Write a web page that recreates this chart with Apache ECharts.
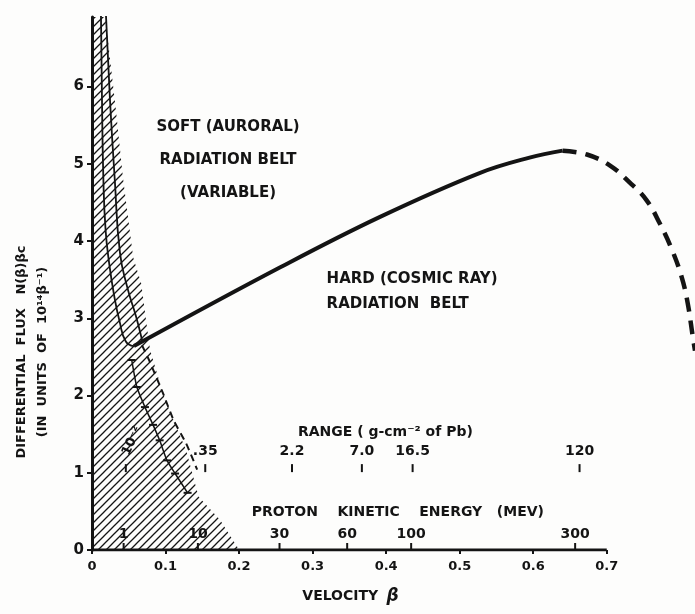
<!DOCTYPE html>
<html>
<head>
<meta charset="utf-8">
<script src="https://cdn.jsdelivr.net/npm/echarts@6/dist/echarts.min.js"></script>
<style>
html, body { margin: 0; padding: 0; background: #fdfdfc; }
#chart { width: 695px; height: 614px; }
</style>
</head>
<body>
<div id="chart"></div>
<script>
// hard (cosmic ray) belt - measured part
var hardBeta = [0.057, 0.256, 0.391, 0.527, 0.595, 0.640];
var hardFlux = [2.64, 3.66, 4.31, 4.88, 5.08, 5.17];
// hard belt - dashed part
var hardDashBeta = [0.640, 0.673, 0.704, 0.731, 0.754, 0.772, 0.789, 0.802, 0.810, 0.817, 0.820];
var hardDashFlux = [5.17, 5.12, 4.98, 4.76, 4.53, 4.23, 3.88, 3.53, 3.20, 2.76, 2.58];
// soft belt, hatched envelope
var softEdgeBeta = [0, 0.018, 0.0326, 0.042, 0.056, 0.067, 0.073, 0.079, 0.0965, 0.111, 0.128, 0.145, 0.174, 0.197, 0.200];
var softEdgeFlux = [6.9, 6.9, 5.69, 4.83, 3.79, 3.45, 3.01, 2.59, 2.03, 1.68, 1.29, 0.69, 0.39, 0.05, 0];
// soft belt curves
var softInnerBeta = [0.0122, 0.0136, 0.0155, 0.0185, 0.0235, 0.030, 0.0375, 0.046, 0.057];
var softInnerFlux = [6.92, 5.82, 4.79, 4.14, 3.70, 3.30, 2.96, 2.70, 2.64];
var softOuterBeta = [0.019, 0.0245, 0.031, 0.038, 0.048, 0.060, 0.068];
var softOuterFlux = [6.92, 5.82, 4.79, 3.85, 3.40, 3.02, 2.72];
var softDashBeta = [0.068, 0.0775, 0.0965, 0.111, 0.128, 0.143];
var softDashFlux = [2.65, 2.46, 2.03, 1.68, 1.38, 1.04];
var ladderBeta = [0.054, 0.061, 0.072, 0.083, 0.092, 0.102, 0.113, 0.130];
var ladderFlux = [2.46, 2.11, 1.85, 1.62, 1.42, 1.16, 0.99, 0.74];
// velocity axis ticks (axis line stops at 0.7)
var velocityTicks = [0, 0.1, 0.2, 0.3, 0.4, 0.5, 0.6, 0.7];
// secondary scales
var energyLabels = ['1', '10', '30', '60', '100', '300'];
var energyBeta = [0.043, 0.144, 0.255, 0.347, 0.434, 0.657];
var rangeLabels = ['10\u207b\u00b2', '.35', '2.2', '7.0', '16.5', '120'];
var rangeBeta = [0.046, 0.154, 0.272, 0.367, 0.436, 0.663];

var ink = '#141414';
var font = "'DejaVu Sans', 'Liberation Sans', sans-serif";

function pairs(xs, ys) {
    return xs.map(function (x, i) { return [x, ys[i]]; });
}

// diagonal hatch pattern
var hatch = document.createElement('canvas');
hatch.width = 8;
hatch.height = 8;
var g = hatch.getContext('2d');
g.strokeStyle = ink;
g.lineWidth = 1.3;
g.beginPath();
g.moveTo(0, 8); g.lineTo(8, 0);
g.moveTo(-2, 2); g.lineTo(2, -2);
g.moveTo(6, 10); g.lineTo(10, 6);
g.stroke();

var chart = echarts.init(document.getElementById('chart'));
var option = {
    animation: false,
    backgroundColor: '#fdfdfc',
    textStyle: { fontFamily: font, color: ink, fontWeight: 'bold' },
    grid: { left: 92, right: 0, top: 17, bottom: 64 },
    xAxis: {
        type: 'value', min: 0, max: 0.82,
        name: '{a|VELOCITY}  {b|\u03b2}',
        nameLocation: 'middle', nameGap: 38,
        nameTextStyle: {
            padding: [0, 86, 0, 0],
            rich: {
                a: { fontSize: 14, fontWeight: 'bold', color: ink, fontFamily: font },
                b: { fontSize: 17, fontWeight: 'bold', fontStyle: 'italic', color: ink, fontFamily: font }
            }
        },
        axisLine: { show: false },
        axisTick: { show: true, customValues: velocityTicks, length: 4, lineStyle: { color: ink, width: 2 } },
        axisLabel: {
            customValues: velocityTicks,
            color: ink, fontSize: 13, fontWeight: 'bold', margin: 10,
            formatter: function (v) { return v === 0 ? '0' : v.toFixed(1); }
        },
        splitLine: { show: false }
    },
    yAxis: {
        type: 'value', min: 0, max: 6.9, interval: 1,
        axisLine: { show: true, lineStyle: { color: ink, width: 3 } },
        axisTick: { show: true, length: 5, lineStyle: { color: ink, width: 2 } },
        axisLabel: {
            color: ink, fontSize: 15, fontWeight: 'bold', margin: 8, showMaxLabel: false,
            formatter: function (v) { return v % 1 === 0 ? String(v) : ''; }
        },
        splitLine: { show: false }
    },
    graphic: [{
        type: 'text', x: 32, y: 352, rotation: Math.PI / 2,
        style: {
            text: 'DIFFERENTIAL  FLUX   N(\u03b2)\u03b2c\n(IN  UNITS  OF  10\u00b9\u2074\u03b2\u207b\u00b9)',
            fill: ink, font: 'bold 13px ' + font,
            align: 'center', verticalAlign: 'middle', lineHeight: 21
        }
    }],
    series: [
        {
            type: 'line', data: pairs(softEdgeBeta, softEdgeFlux), symbol: 'none', silent: true,
            lineStyle: { width: 0, opacity: 0 },
            areaStyle: { color: { image: hatch, repeat: 'repeat' }, opacity: 1 },
            z: 1
        },
        {
            // velocity axis line
            type: 'line', data: [[velocityTicks[0], 0], [velocityTicks[velocityTicks.length - 1], 0]],
            symbol: 'none', silent: true, lineStyle: { color: ink, width: 3 }, z: 2
        },
        {
            type: 'line', data: pairs(softInnerBeta, softInnerFlux), symbol: 'none', smooth: 0.5,
            lineStyle: { color: ink, width: 1.8 }, z: 3
        },
        {
            type: 'line', data: pairs(softOuterBeta, softOuterFlux), symbol: 'none', smooth: 0.5,
            lineStyle: { color: ink, width: 1.8 }, z: 3
        },
        {
            type: 'line', data: pairs(softDashBeta, softDashFlux), symbol: 'none', smooth: 0.2,
            lineStyle: { color: ink, width: 2, type: [7, 5] }, z: 3
        },
        {
            type: 'line', data: pairs(ladderBeta, ladderFlux), smooth: 0.2,
            symbol: 'rect', symbolSize: [8, 2], showAllSymbol: true,
            itemStyle: { color: ink }, lineStyle: { color: ink, width: 1.5 }, z: 3
        },
        {
            type: 'line', data: pairs(hardBeta, hardFlux), symbol: 'none', smooth: 0.4,
            lineStyle: { color: ink, width: 4 }, z: 4
        },
        {
            type: 'line', data: pairs(hardDashBeta, hardDashFlux), symbol: 'none', smooth: 0.4,
            clip: false, lineStyle: { color: ink, width: 4.5, type: [14, 9] }, z: 4
        },
        {
            // proton kinetic energy scale
            type: 'scatter', symbol: 'rect', symbolSize: [2, 7], symbolOffset: [0, -3.5],
            itemStyle: { color: ink, opacity: 1 }, silent: true, z: 5,
            data: energyBeta.map(function (b, i) {
                return { value: [b, 0], name: energyLabels[i] };
            }),
            label: {
                show: true, position: 'top', distance: 2, formatter: '{b}',
                color: ink, fontSize: 14, fontWeight: 'bold', fontFamily: font
            }
        },
        {
            // range in lead scale
            type: 'scatter', symbol: 'rect', symbolSize: [2, 8],
            itemStyle: { color: ink, opacity: 1 }, silent: true, z: 5,
            data: rangeBeta.map(function (b, i) {
                var item = { value: [b, 1.06], name: rangeLabels[i] };
                if (i === 0) {
                    item.label = { rotate: 65, position: [-5, -12], fontSize: 13 };
                }
                return item;
            }),
            label: {
                show: true, position: 'top', distance: 6, formatter: '{b}',
                color: ink, fontSize: 14, fontWeight: 'bold', fontFamily: font
            }
        },
        {
            // annotations
            type: 'scatter', symbolSize: 0, silent: true, z: 6,
            itemStyle: { opacity: 1 },
            data: [
                {
                    value: [0.185, 5.05], name: 'SOFT (AURORAL)\nRADIATION BELT\n(VARIABLE)',
                    label: { align: 'center', lineHeight: 33, fontSize: 15 }
                },
                {
                    value: [0.319, 3.34], name: 'HARD (COSMIC RAY)\nRADIATION  BELT',
                    label: { align: 'left', lineHeight: 25, fontSize: 15 }
                },
                {
                    value: [0.399, 1.52], name: 'RANGE ( g-cm\u207b\u00b2 of Pb)',
                    label: { align: 'center', fontSize: 14 }
                },
                {
                    value: [0.416, 0.49], name: 'PROTON    KINETIC    ENERGY   (MEV)',
                    label: { align: 'center', fontSize: 14 }
                }
            ],
            label: {
                show: true, position: [0, 0], verticalAlign: 'middle', formatter: '{b}',
                color: ink, fontWeight: 'bold', fontFamily: font
            }
        }
    ]
};
chart.setOption(option);
</script>
</body>
</html>
